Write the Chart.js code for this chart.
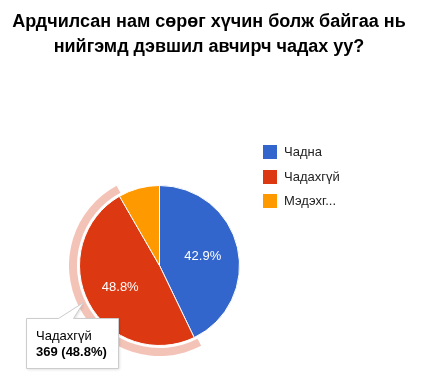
<!DOCTYPE html>
<html>
<head>
<meta charset="utf-8">
<script src="https://cdn.jsdelivr.net/npm/chart.js@4/dist/chart.umd.min.js"></script>
<style>
html,body{margin:0;padding:0;background:#fff;}
#wrap{position:relative;width:445px;height:376px;}
</style>
</head>
<body>
<div id="wrap"><canvas id="c" width="445" height="376"></canvas></div>
<script>
const titleLines = ["Ардчилсан нам сөрөг хүчин болж байгаа нь", "нийгэмд дэвшил авчирч чадах уу?"];
const categories = ["Чадна", "Чадахгүй", "Мэдэхгүй"];
const legendLabels = ["Чадна", "Чадахгүй", "Мэдэхг..."];
const values = [324, 369, 63];
const colors = ["#3366cc", "#dc3912", "#ff9900"];
const highlightIndex = 1;

const FONT = '"Liberation Sans", Arial, sans-serif';

const decor = {
  id: 'decor',
  beforeDatasetsDraw(chart) {
    const ctx = chart.ctx;
    const arc = chart.getDatasetMeta(0).data[highlightIndex];
    const ext = 0.03;
    ctx.save();
    ctx.beginPath();
    ctx.arc(arc.x, arc.y, 90.5, arc.startAngle - ext, arc.endAngle + ext);
    ctx.arc(arc.x, arc.y, 82.5, arc.endAngle + ext, arc.startAngle - ext, true);
    ctx.closePath();
    ctx.fillStyle = 'rgba(220,57,18,0.3)';
    ctx.fill();
    ctx.restore();
  },
  afterDatasetsDraw(chart) {
    const ctx = chart.ctx;
    const meta = chart.getDatasetMeta(0);
    const total = values.reduce((a, b) => a + b, 0);
    ctx.save();
    ctx.font = '13px ' + FONT;
    ctx.fillStyle = '#ffffff';
    ctx.textAlign = 'center';
    ctx.textBaseline = 'middle';
    meta.data.forEach((a, i) => {
      const pct = values[i] / total * 100;
      if (pct < 10) return;
      const mid = (a.startAngle + a.endAngle) / 2;
      const r = a.outerRadius * 0.555;
      ctx.fillText(pct.toFixed(1) + '%', a.x + Math.cos(mid) * r, a.y + Math.sin(mid) * r + 1);
    });
    ctx.restore();
  },
  afterDraw(chart) {
    const ctx = chart.ctx;
    const total = values.reduce((a, b) => a + b, 0);
    ctx.save();
    // title
    ctx.fillStyle = '#000000';
    ctx.font = 'bold 18px ' + FONT;
    ctx.textAlign = 'center';
    ctx.textBaseline = 'alphabetic';
    ctx.fillText(titleLines[0], 209, 27);
    ctx.fillText(titleLines[1], 209, 52);
    // legend
    ctx.textAlign = 'left';
    ctx.textBaseline = 'middle';
    ctx.font = '13px ' + FONT;
    const ly = [145, 170, 194];
    legendLabels.forEach((l, i) => {
      ctx.fillStyle = colors[i];
      ctx.fillRect(263, ly[i], 14, 14);
      ctx.fillStyle = '#222222';
      ctx.fillText(l, 284, ly[i] + 7);
    });
    // tooltip
    const bx = 26, by = 318, bw = 92, bh = 50;
    ctx.shadowColor = 'rgba(0,0,0,0.15)';
    ctx.shadowBlur = 3;
    ctx.shadowOffsetX = 1;
    ctx.shadowOffsetY = 1;
    ctx.beginPath();
    ctx.moveTo(bx + 0.5, by + 0.5);
    ctx.lineTo(58.5, by + 0.5);
    ctx.lineTo(83.5, 302.5);
    ctx.lineTo(73.5, by + 0.5);
    ctx.lineTo(bx + bw + 0.5, by + 0.5);
    ctx.lineTo(bx + bw + 0.5, by + bh + 0.5);
    ctx.lineTo(bx + 0.5, by + bh + 0.5);
    ctx.closePath();
    ctx.fillStyle = '#ffffff';
    ctx.fill();
    ctx.shadowColor = 'transparent';
    ctx.strokeStyle = '#cccccc';
    ctx.lineWidth = 1;
    ctx.stroke();
    ctx.textBaseline = 'alphabetic';
    ctx.fillStyle = '#000000';
    ctx.font = '13px ' + FONT;
    ctx.fillText(categories[highlightIndex], 36, 340);
    ctx.font = 'bold 13px ' + FONT;
    const v = values[highlightIndex];
    ctx.fillText(v + ' (' + (v / total * 100).toFixed(1) + '%)', 36, 356);
    ctx.restore();
  }
};

new Chart(document.getElementById('c'), {
  type: 'pie',
  data: {
    labels: categories,
    datasets: [{
      data: values,
      backgroundColor: colors,
      borderColor: '#ffffff',
      borderWidth: 1,
      hoverOffset: 0
    }]
  },
  options: {
    responsive: false,
    animation: false,
    events: [],
    radius: 80,
    layout: { padding: { left: 69.5, top: 175.5, right: 195.5, bottom: 20.5 } },
    plugins: {
      legend: { display: false },
      title: { display: false },
      tooltip: { enabled: false }
    }
  },
  plugins: [decor]
});
</script>
</body>
</html>
